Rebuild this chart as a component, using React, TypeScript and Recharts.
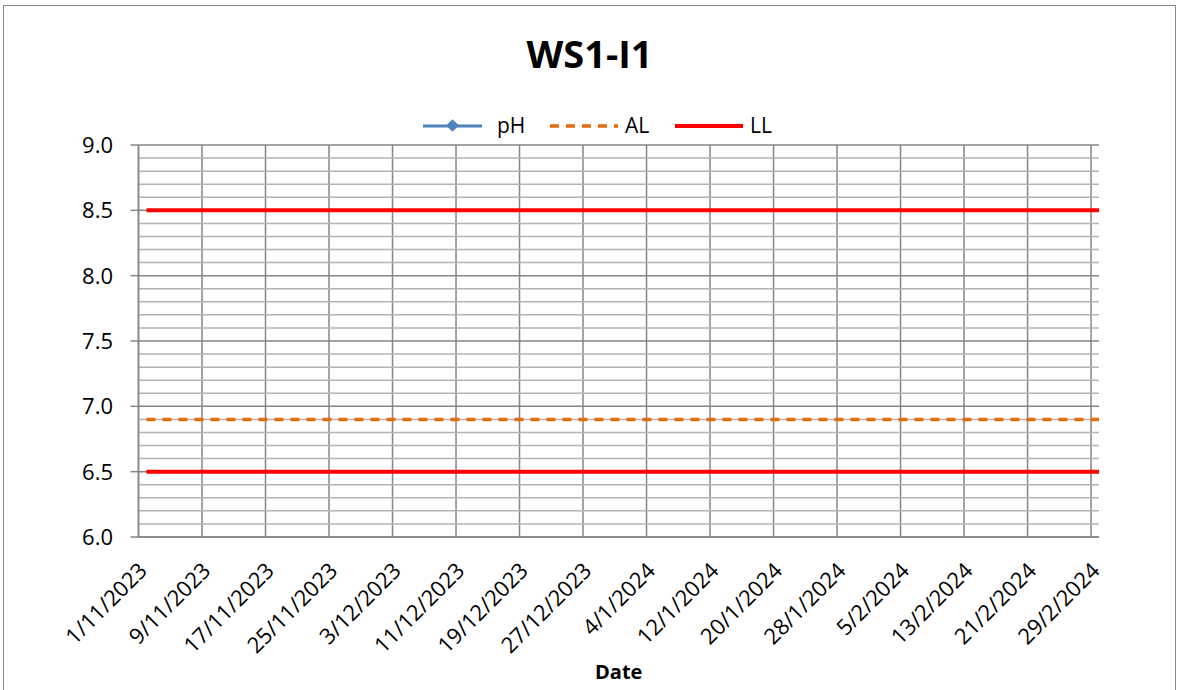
import React from 'react';
import { LineChart, Line, XAxis, YAxis, CartesianGrid, ReferenceLine } from 'recharts';

// ---- data ----
const chartTitle = 'WS1-I1';
const xAxisTitle = 'Date';
const tickLabels = [
  '1/11/2023', '9/11/2023', '17/11/2023', '25/11/2023', '3/12/2023', '11/12/2023',
  '19/12/2023', '27/12/2023', '4/1/2024', '12/1/2024', '20/1/2024', '28/1/2024',
  '5/2/2024', '13/2/2024', '21/2/2024', '29/2/2024',
];
// days since 1/11/2023 for each tick label
const tickDays = [0, 8, 16, 24, 32, 40, 48, 56, 64, 72, 80, 88, 96, 104, 112, 120];
// sample dates (days since 1/11/2023): 2/11/2023 .. 1/3/2024
const sampleDays = [1, 121];
const phValues: (number | null)[] = [null, null];
const alValues = [6.9, 6.9];
const llLowerValues = [6.5, 6.5];
const llUpperValues = [8.5, 8.5];
const yMajorTicks = [6.0, 6.5, 7.0, 7.5, 8.0, 8.5, 9.0];
const yMinorValues = [6.1, 6.2, 6.3, 6.4, 6.6, 6.7, 6.8, 6.9, 7.1, 7.2, 7.3, 7.4, 7.6, 7.7, 7.8, 7.9, 8.1, 8.2, 8.3, 8.4, 8.6, 8.7, 8.8, 8.9];

const data = sampleDays.map((d, i) => ({
  day: d,
  pH: phValues[i],
  AL: alValues[i],
  LL: llLowerValues[i],
  LLU: llUpperValues[i],
}));

const FONT = '"Open Sans", "Noto Sans", sans-serif';
const MAJOR = '#858585';
const MINOR = '#b3b3b3';

const XTick = (props: any) => {
  const { x, y, payload } = props;
  const idx = tickDays.indexOf(payload.value);
  const label = idx >= 0 ? tickLabels[idx] : '';
  const ax = x + 10;
  const ay = y + 35;
  return (
    <text x={ax} y={ay} textAnchor="end" transform={`rotate(-45, ${ax}, ${ay})`}
      fontFamily={FONT} fontSize={22} fill="#000">{label}</text>
  );
};

const YTick = (props: any) => {
  const { x, y, payload } = props;
  return (
    <text x={x} y={y + 8} textAnchor="end" fontFamily={FONT} fontSize={22} fill="#000">
      {Number(payload.value).toFixed(1)}
    </text>
  );
};

const XLabel = (props: any) => {
  const { viewBox } = props;
  const cx = viewBox.x + viewBox.width / 2;
  return (
    <text x={cx} y={679} textAnchor="middle" fontFamily={FONT} fontSize={20} fontWeight="bold" fill="#000">
      {xAxisTitle}
    </text>
  );
};

export default function App() {
  return (
    <div style={{ position: 'relative', width: 1179, height: 690, overflow: 'hidden', background: '#fff' }}>
      <style>{`body{margin:0;}`}</style>
      <div style={{ position: 'absolute', left: 3, top: 5, width: 1173, height: 700, border: '1.5px solid #8a8a8a', boxSizing: 'border-box' }} />
      <div style={{ position: 'absolute', left: 0, top: 0 }}>
        <LineChart width={1179} height={690} data={data}
          margin={{ top: 145, right: 80, bottom: 53, left: 38.5 }}>
          {yMinorValues.map((v) => (
            <ReferenceLine key={v} y={v} stroke={MINOR} strokeWidth={1.5} ifOverflow="extendDomain" />
          ))}
          <CartesianGrid stroke={MAJOR} strokeWidth={1.5} verticalValues={tickDays} />
          <XAxis dataKey="day" type="number" domain={[0, 121]} ticks={tickDays} interval={0}
            allowDataOverflow tickLine={false} tickSize={0} tickMargin={0} height={100}
            axisLine={{ stroke: MAJOR, strokeWidth: 1.5 }} tick={<XTick />} label={<XLabel />} />
          <YAxis type="number" domain={[6, 9]} ticks={yMajorTicks} interval={0} width={100}
            allowDataOverflow tickSize={8} tickMargin={17.5}
            tickLine={{ stroke: MAJOR, strokeWidth: 1.5 }}
            axisLine={{ stroke: MAJOR, strokeWidth: 1.5 }} tick={<YTick />} />
          <Line dataKey="pH" stroke="#4f81bd" strokeWidth={3} dot={false} isAnimationActive={false} connectNulls={false} />
          <Line dataKey="AL" stroke="#e46c0a" strokeWidth={3.5} strokeDasharray="9 7" dot={false} isAnimationActive={false} />
          <Line dataKey="LL" stroke="#ff0000" strokeWidth={4} dot={false} isAnimationActive={false} />
          <Line dataKey="LLU" stroke="#ff0000" strokeWidth={4} dot={false} isAnimationActive={false} />
        </LineChart>
      </div>
      <svg style={{ position: 'absolute', left: 0, top: 0 }} width={1179} height={140}>
        <text x={589.5} y={68} textAnchor="middle" fontFamily={FONT} fontSize={38} fontWeight="bold" fill="#000">
          {chartTitle}
        </text>
        <g>
          <line x1={423} y1={126} x2={482} y2={126} stroke="#4f81bd" strokeWidth={3} />
          <rect x={448} y={121} width={9} height={9} fill="#4f81bd" transform="rotate(45, 452.5, 125.5)" />
          <text x={497} y={133} fontFamily={FONT} fontSize={21} fill="#000">pH</text>
          <line x1={550} y1={126} x2={618} y2={126} stroke="#e46c0a" strokeWidth={3.5} strokeDasharray="9 7" />
          <text x={625} y={133} fontFamily={FONT} fontSize={21} fill="#000">AL</text>
          <line x1={675} y1={126} x2={743} y2={126} stroke="#ff0000" strokeWidth={4} />
          <text x={750} y={133} fontFamily={FONT} fontSize={21} fill="#000">LL</text>
        </g>
      </svg>
    </div>
  );
}
